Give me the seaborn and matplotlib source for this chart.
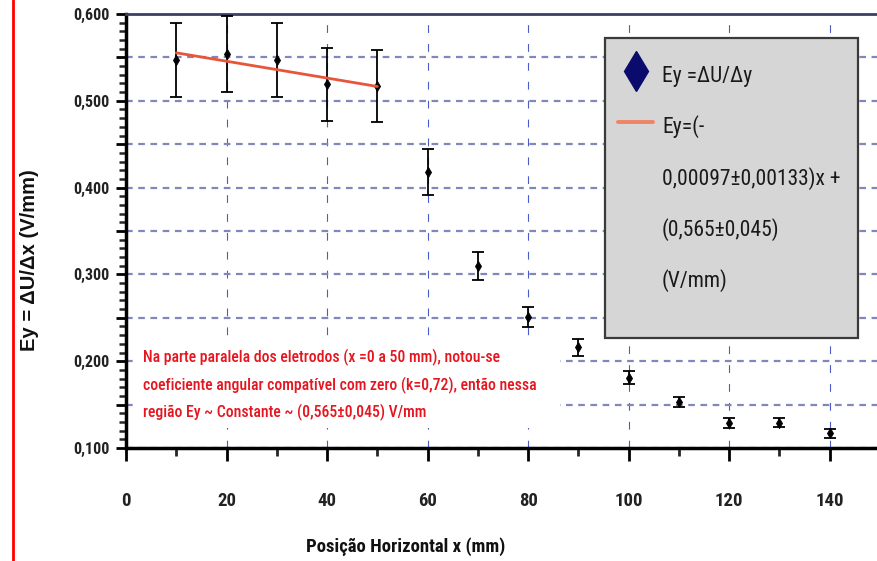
import matplotlib
matplotlib.use("Agg")
import matplotlib.pyplot as plt
from matplotlib.lines import Line2D
from matplotlib.patches import Rectangle
from matplotlib.ticker import FixedLocator, MultipleLocator, FuncFormatter
import pandas as pd
import seaborn as sns

# Measured field along the horizontal position between the electrodes
posicao_mm = [10, 20, 30, 40, 50, 60, 70, 80, 90, 100, 110, 120, 130, 140]
campo_ey = [0.547, 0.554, 0.547, 0.519, 0.517, 0.418, 0.310, 0.251,
            0.216, 0.181, 0.153, 0.129, 0.129, 0.117]
erro_ey = [0.043, 0.044, 0.043, 0.042, 0.041, 0.027, 0.016, 0.012,
           0.010, 0.0075, 0.006, 0.006, 0.005, 0.005]

# Linear fit over the parallel region (x = 10 .. 50 mm)
ajuste_x = [10, 50]
coef_angular = -0.00097
coef_linear = 0.565

x_ticks = [0, 20, 40, 60, 80, 100, 120, 140]
legenda_pontos = "Ey =ΔU/Δy"
legenda_ajuste = ["Ey=(-", "0,00097±0,00133)x +", "(0,565±0,045)", "(V/mm)"]
nota = ("Na parte paralela dos eletrodos (x =0 a 50 mm), notou-se\n"
        "coeficiente angular compatível com zero (k=0,72), então nessa\n"
        "região Ey ~ Constante ~ (0,565±0,045) V/mm")

sns.set_theme(style="white")
plt.rcParams["font.family"] = ["Roboto Condensed", "Liberation Sans", "DejaVu Sans"]
plt.rcParams["font.weight"] = "bold"

W, H = 877, 561
fig = plt.figure(figsize=(W / 100, H / 100), dpi=100)
fig.patch.set_facecolor("white")
ax = fig.add_axes([126 / W, 113 / H, 754 / W, 434 / H])
ax.set_facecolor("white")
ax.set_xlim(0, 150)
ax.set_ylim(0.1, 0.6)


def px_ax(px, py):
    """Pixel position in the figure -> axes fraction."""
    return (px - 126) / 754, (448 - py) / 434


df = pd.DataFrame({"x": posicao_mm, "ey": campo_ey, "err": erro_ey})
ax.errorbar(df["x"], df["ey"], yerr=df["err"], fmt="none", ecolor="black",
            elinewidth=1.3, capsize=4, capthick=1.3, zorder=3)
sns.scatterplot(data=df, x="x", y="ey", marker="d", s=28, color="black",
                edgecolor="black", linewidth=0.5, ax=ax, zorder=4, legend=False)

fit = pd.DataFrame({"x": ajuste_x,
                    "ey": [coef_linear + coef_angular * v for v in ajuste_x]})
sns.lineplot(data=fit, x="x", y="ey", color="#e8553a", lw=2, ax=ax, zorder=5)

# Axes, ticks and grid
ax.xaxis.set_major_locator(FixedLocator(x_ticks))
ax.xaxis.set_minor_locator(MultipleLocator(10))
ax.yaxis.set_major_locator(MultipleLocator(0.05))
ax.yaxis.set_minor_locator(MultipleLocator(0.01))


def rotulo_y(v, pos):
    if abs(v * 10 - round(v * 10)) < 1e-6:
        return f"{v:.3f}".replace(".", ",")
    return ""


ax.yaxis.set_major_formatter(FuncFormatter(rotulo_y))
ax.tick_params(axis="x", which="major", direction="out", length=9, width=2,
               pad=23, labelsize=13.5, bottom=True, colors="black")
ax.tick_params(axis="x", which="minor", direction="out", length=6, width=2, bottom=True)
ax.tick_params(axis="y", which="major", direction="out", length=7, width=2,
               pad=5, labelsize=11.5, left=True, colors="black")
ax.tick_params(axis="y", which="minor", direction="out", length=5, width=1.8, left=True)
for lab in ax.get_xticklabels() + ax.get_yticklabels():
    lab.set_color("#222222")

for s in ("left", "bottom"):
    ax.spines[s].set_color("black")
    ax.spines[s].set_linewidth(2.5)
ax.spines["top"].set_color("#3c3f62")
ax.spines["top"].set_linewidth(2)
ax.spines["right"].set_visible(False)

ax.set_axisbelow(True)
ax.grid(True, axis="y", which="major", color="#8088bb", lw=1.6, linestyle=(0, (3, 2.5)))
ax.grid(True, axis="x", which="major", color="#4a5cc8", lw=0.8, linestyle=(0, (7, 10)))

ax.set_xlabel("Posição Horizontal x (mm)", fontsize=13.5, fontweight="bold", color="#111111")
ax.xaxis.set_label_coords(*px_ax(406, 547))
ax.xaxis.label.set_va("center")
ax.set_ylabel("Ey = ΔU/Δx (V/mm)", fontsize=14.5, fontweight="bold", color="#111111",
              family=["Liberation Sans", "DejaVu Sans"])
ax.yaxis.set_label_coords(*px_ax(30, 260))
ax.yaxis.label.set_va("center")

# Annotation about the parallel region, on a white panel that hides the grid
nx0, ny0 = px_ax(137, 428)
nx1, ny1 = px_ax(560, 338)
ax.add_patch(Rectangle((nx0, ny0), nx1 - nx0, ny1 - ny0, transform=ax.transAxes,
                       facecolor="white", edgecolor="none", zorder=2.5))
ax.text(*px_ax(143, 385), nota, transform=ax.transAxes,
        ha="left", va="center", color="#e5161f", fontsize=11.3, fontweight="medium",
        linespacing=1.75, zorder=6)

# Legend: grey panel with the entries laid out inside it
x0, y0 = px_ax(605, 338)
x1, y1 = px_ax(858, 38)
ax.add_patch(Rectangle((x0, y0), x1 - x0, y1 - y0, transform=ax.transAxes,
                       facecolor="#d6d6d6", edgecolor="#3a3a3a", lw=1.6, zorder=7))

fs_leg = 15.5
fs_px = fs_leg * 100 / 72
row_px = 30
hh = (row_px / fs_px - 0.245) / 0.65
handles = [Line2D([], [], marker="d", color="#0b0b6e", linestyle="none", markersize=20),
           Line2D([], [], color="#ef8466", lw=2.8)] + \
          [Line2D([], [], linestyle="none") for _ in range(3)]
labels = [legenda_pontos] + legenda_ajuste
leg = ax.legend(handles, labels, loc="upper left", bbox_to_anchor=px_ax(618, 75 - row_px / 2),
                frameon=False, prop={"size": fs_leg, "weight": "normal"},
                handlelength=35 / fs_px, handleheight=hh,
                handletextpad=9 / fs_px, labelspacing=21.25 / fs_px,
                borderpad=0, borderaxespad=0)
leg.set_zorder(8)
for t in leg.get_texts():
    t.set_color("#1a1a1a")

# Red frame line at the left edge
fig.add_artist(Line2D([12.5 / W, 12.5 / W], [0, 1], transform=fig.transFigure,
                      color="#ff0000", lw=2))

fig.savefig("out.png", dpi=100, facecolor="white")
